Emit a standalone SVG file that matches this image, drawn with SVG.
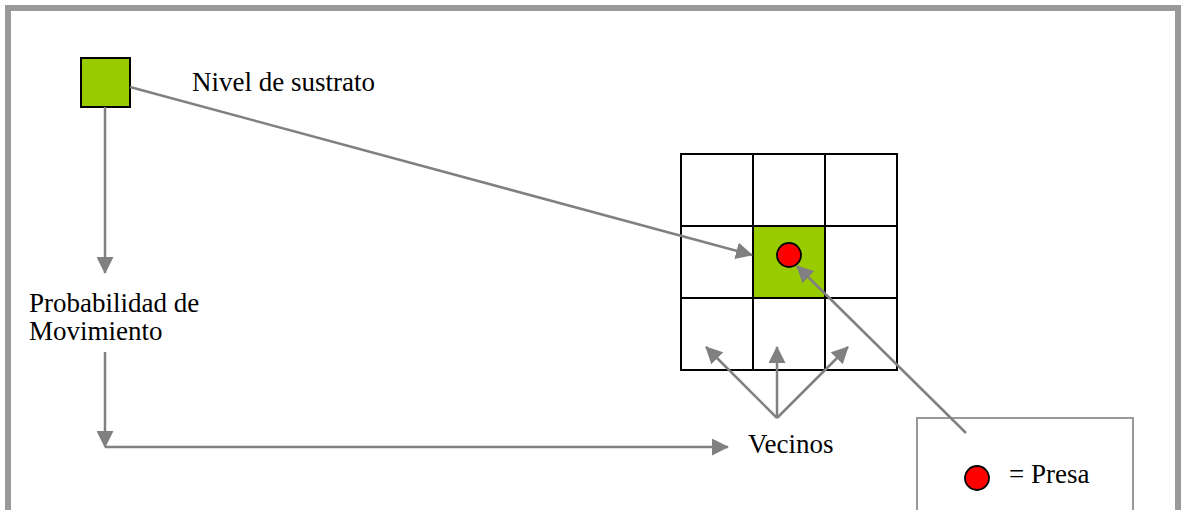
<svg xmlns="http://www.w3.org/2000/svg" width="1183" height="510" viewBox="0 0 1183 510">
<style>
.lbl{font-family:"Liberation Serif","Times New Roman",serif;font-size:27px;fill:#000}
.con{stroke:#808080;stroke-width:2.5;fill:none}
.cell{fill:#fff;stroke:#000;stroke-width:2}
.green{fill:#99CC00;stroke:#000;stroke-width:2}
.prey{fill:#FF0000;stroke:#000;stroke-width:1.8}
</style>
<defs>
<marker id="arr" viewBox="0 0 17 17" refX="16" refY="8.5" markerWidth="17" markerHeight="17" markerUnits="userSpaceOnUse" orient="auto">
<path d="M0,0 L17,8.5 L0,17 Z" fill="#808080"/>
</marker>
</defs>
<rect x="0" y="0" width="1183" height="510" fill="#fff"/>
<rect id="frame" x="8" y="8" width="1170" height="620" fill="none" stroke="#999999" stroke-width="6"/>

<g id="substrate">
<rect class="green" x="81" y="58" width="49" height="49"/>
<text class="lbl" x="192" y="91">Nivel de sustrato</text>
</g>

<g id="probability">
<text class="lbl" x="29" y="312">Probabilidad de</text>
<text class="lbl" x="29" y="340">Movimiento</text>
</g>

<g id="grid">
<rect class="cell" x="681" y="154" width="72" height="72"/>
<rect class="cell" x="753" y="154" width="72" height="72"/>
<rect class="cell" x="825" y="154" width="72" height="72"/>
<rect class="cell" x="681" y="226" width="72" height="72"/>
<rect class="cell" x="825" y="226" width="72" height="72"/>
<rect class="cell" x="681" y="298" width="72" height="72"/>
<rect class="cell" x="753" y="298" width="72" height="72"/>
<rect class="cell" x="825" y="298" width="72" height="72"/>
<rect class="green" x="753" y="226" width="72" height="72"/>
<circle class="prey" cx="789" cy="255" r="12"/>
</g>

<g id="vecinos">
<text class="lbl" x="748" y="453">Vecinos</text>
</g>

<g id="legend">
<rect x="917" y="418" width="216" height="120" fill="none" stroke="#999999" stroke-width="2"/>
<circle class="prey" cx="977" cy="478" r="12"/>
<text class="lbl" x="1009" y="483">= Presa</text>
</g>

<g id="connectors">
<line class="con" x1="105" y1="107" x2="105" y2="273" marker-end="url(#arr)"/>
<line class="con" x1="105" y1="352" x2="105" y2="447" marker-end="url(#arr)"/>
<line class="con" x1="105" y1="447" x2="728" y2="447" marker-end="url(#arr)"/>
<line class="con" x1="130" y1="87" x2="752" y2="255" marker-end="url(#arr)"/>
<line class="con" x1="966" y1="433" x2="797" y2="266" marker-end="url(#arr)"/>
<line class="con" x1="777" y1="418" x2="706" y2="347" marker-end="url(#arr)"/>
<line class="con" x1="777" y1="418" x2="777" y2="347" marker-end="url(#arr)"/>
<line class="con" x1="777" y1="418" x2="848" y2="347" marker-end="url(#arr)"/>
</g>
</svg>
